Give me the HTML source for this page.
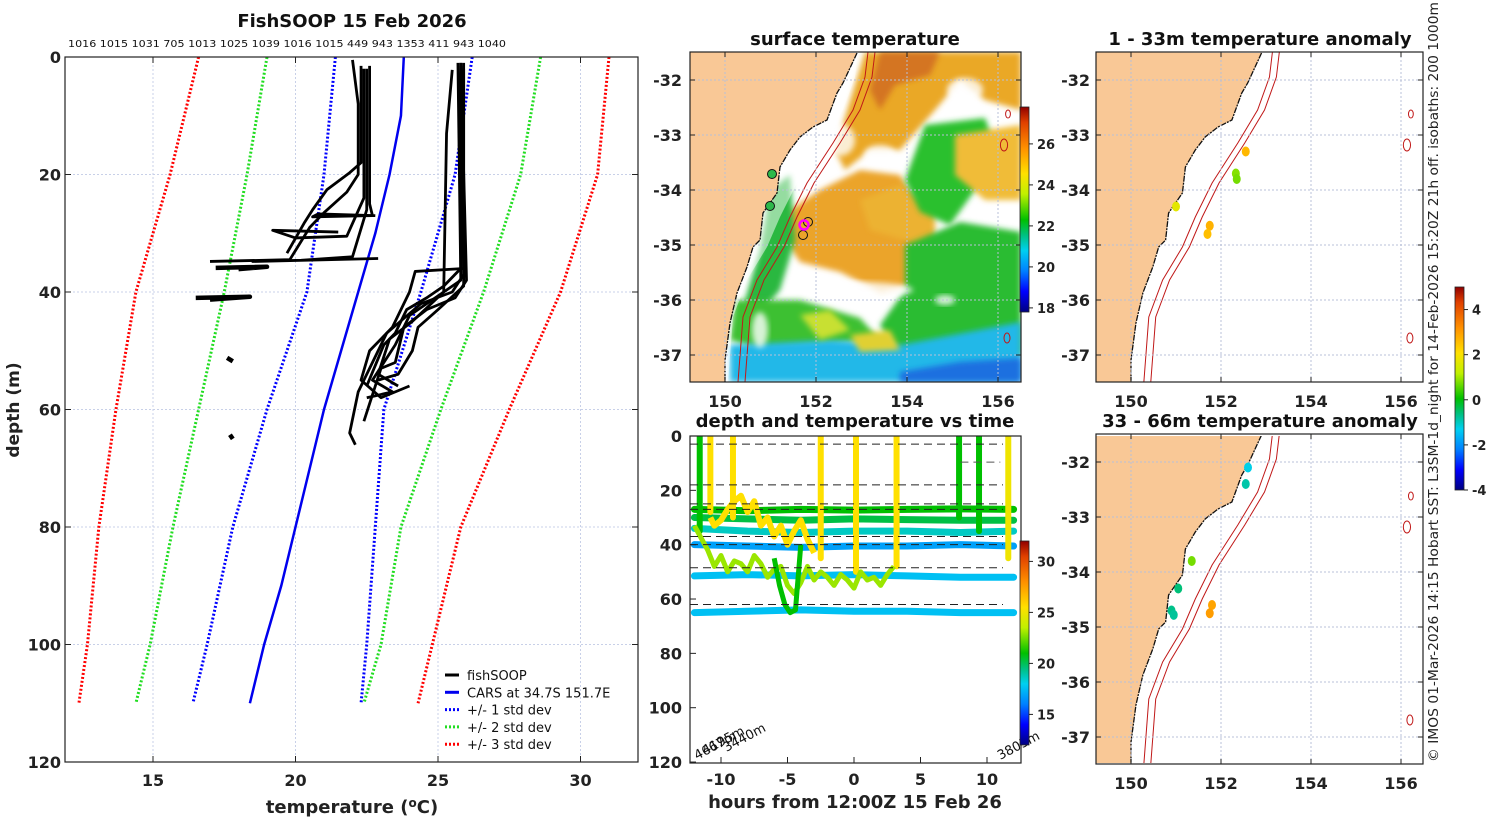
<!DOCTYPE html>
<html><head><meta charset="utf-8">
<style>
html,body{margin:0;padding:0;background:#fff;}
svg{display:block;font-family:"DejaVu Sans","Liberation Sans",sans-serif;}
</style></head>
<body>
<svg id="s" width="1500" height="820" viewBox="0 0 1500 820" xmlns="http://www.w3.org/2000/svg">
<defs>
<filter id="bl" x="-20%" y="-20%" width="140%" height="140%"><feGaussianBlur stdDeviation="3"/></filter>
<clipPath id="cm"><rect x="690" y="52" width="331" height="330"/></clipPath>
<clipPath id="cr1"><rect x="1096" y="52" width="327" height="330"/></clipPath>
<clipPath id="cr2"><rect x="1096" y="436" width="327" height="327"/></clipPath>
<clipPath id="ct"><rect x="690" y="436" width="331" height="327"/></clipPath>
<linearGradient id="jet" x1="0" y1="1" x2="0" y2="0">
<stop offset="0" stop-color="#000080"/><stop offset="0.1" stop-color="#0000ff"/><stop offset="0.2" stop-color="#0080ff"/><stop offset="0.3" stop-color="#00d0f0"/><stop offset="0.375" stop-color="#00c080"/><stop offset="0.45" stop-color="#00c000"/><stop offset="0.575" stop-color="#c0f000"/><stop offset="0.675" stop-color="#ffe000"/><stop offset="0.8" stop-color="#ff9000"/><stop offset="0.925" stop-color="#e04000"/><stop offset="1" stop-color="#900000"/>
</linearGradient>
</defs>
<g id="left"></g>
<g id="mid"></g>
<g id="tm"></g>
<g id="rt"></g>
<text x="0" y="0" transform="translate(1438,762) rotate(-90)" font-size="13" textLength="760" lengthAdjust="spacingAndGlyphs" fill="#222">© IMOS 01-Mar-2026 14:15 Hobart SST: L3SM-1d_night for 14-Feb-2026 15:20Z 21h off. isobaths: 200  1000m</text>
</svg>
<script>
// ---------- data ----------
const xTicks=[15,20,25,30];
const yTicks=[0,20,40,60,80,100,120];
const cellCounts=["1016","1015","1031","705","1013","1025","1039","1016","1015","449","943","1353","411","943","1040"];
const carsDepth=[0,10,20,30,40,50,60,70,80,90,100,110];
const carsMean=[23.8,23.7,23.3,22.8,22.2,21.6,21.0,20.5,20.0,19.5,18.9,18.4];
const stdDepth=[0,20,40,60,80,100,110];
const minus1=[21.4,21.0,20.4,19.0,17.8,16.9,16.4];
const plus1=[26.2,25.6,24.4,23.1,22.8,22.5,22.3];
const minus2=[19.0,18.3,17.5,16.6,15.7,14.9,14.4];
const plus2=[28.6,27.9,26.6,25.1,23.7,23.0,22.4];
const minus3=[16.6,15.6,14.4,13.7,13.1,12.7,12.4];
const plus3=[31.0,30.6,29.3,27.5,25.8,24.8,24.3];
const fishTracks=[
[[22.3,1.5],[22.3,10],[22.3,18],[21.9,19.7],[21.1,22.6],[20.6,26],[20.3,28.3],[19.7,33.4]],
[[22.0,0.5],[22.2,8],[22.2,20],[21.8,23],[21.0,26.5],[20.5,29],[19.8,34.5],[17.0,34.8]],
[[22.6,1.5],[22.6,25],[22.7,27],[20.6,27.2],[20.8,26.7],[22.8,27]],
[[22.4,2],[22.4,24],[21.8,30.5],[20.0,30.8],[19.2,29.5],[21.5,29.8]],
[[22.5,2],[22.5,26],[22.0,34],[20.2,34.6],[18.5,34.8],[22.9,34.3]],
[[17.2,35.9],[19.0,35.7],[18.0,36.1]],
[[16.5,41],[18.4,40.8],[17.0,41.3]],
[[17.6,51.2],[17.8,51.8]],
[[17.7,64.3],[17.8,65]],
[[25.8,1],[25.9,37],[25.5,40],[24.4,42],[23.2,47],[22.6,53],[22.2,57],[21.9,64],[22.1,66]],
[[25.7,1],[25.8,38],[24.9,41],[24.0,44],[23.5,49],[22.7,55],[23.4,57],[22.5,58]],
[[25.5,2.2],[25.3,13],[25.2,40],[24.1,45],[23.3,48],[22.9,54],[23.6,56]],
[[25.9,1],[25.9,36],[24.2,36.5],[24.0,40],[23.4,46],[22.6,50],[22.3,55],[23.0,58],[24.0,56]],
[[25.8,1],[26.0,38],[25.6,41],[24.6,43],[23.8,46],[23.5,52],[23.0,53],[22.4,62]],
[[25.9,2],[25.9,39],[25.0,43],[24.3,46],[24.1,50],[23.6,54],[22.9,55]],
[[25.8,1.5],[25.8,36],[25.2,39],[24.6,41],[23.9,43],[23.5,47],[23.1,49],[22.5,56]]
];
// time panel
const tHours=[-12,-8,-4,0,4,8,12];
const tTicks=[-10,-5,0,5,10];
const dTicks=[0,20,40,60,80,100,120];
const bandDepths=[[27,27.5,27,27.3,27,26.8,27],[30,30.5,31,30.5,30.8,31,31],[34,35,35.5,35,35,35.5,35],[40,40.5,41,40.5,40.5,40,40.5],[51.5,51,51.5,51,51.5,52,52],[65,64.5,64,64.5,64.5,65,65]];
const bandTemps=[21,20.2,18.6,16.8,17.6,17.6];
const dashDepths=[3,18,25,27,37,40,48.5,62];
const castHours=[-11.6,-10.8,-9.1,-2.5,0.15,3.2,7.9,9.4,11.6];
const castBottom=[35,28,30,45,50,48,30,35,45];
const castTemps=[21,25.5,25.5,25.5,25.5,25.5,21,21,25];
const wiggleH=[-12,-11,-10.5,-10,-9.5,-9,-8.5,-8,-7.5,-7,-6.5,-6,-5.5,-5,-4.5,-4,-3.5,-3,-2.5,-2,-1.5,-1,-0.5,0,0.5,1,1.5,2,2.5,3];
const wiggleD=[33,42,48,44,50,46,47,50,44,47,52,49,48,55,58,54,48,53,50,52,55,51,53,56,50,53,52,55,51,48];
const wig2H=[-10.8,-10.5,-10,-9.5,-9,-8.5,-8,-7.5,-7,-6.5,-6,-5.5,-5,-4.5,-4,-3.5,-3];
const wig2D=[30,33,31,27,24,22,28,24,33,30,37,33,40,35,31,38,43];
const wig3H=[-6,-5.6,-5.2,-4.8,-4.4,-4];
const wig3D=[45,55,62,65,64,40];
const depthLabels=["4667m","4195m","3440m","3803m"];
const depthLabelH=[-11.8,-11.2,-9.6,11.0];
// maps
const lonTicks=[150,152,154,156];
const latTicks=[-32,-33,-34,-35,-36,-37];
const sstTicks=[18,20,22,24,26];
const anomTicks=[-4,-2,0,2,4];
const anomTop=[[152.55,-33.3,2.5],[152.33,-33.7,0.6],[152.35,-33.8,0.5],[151.0,-34.3,1.5],[151.75,-34.65,2.6],[151.7,-34.8,2.4]];
const anomBot=[[152.6,-32.1,-1.6],[152.55,-32.4,-1.2],[151.35,-33.8,0.5],[151.05,-34.3,-0.9],[150.9,-34.7,-1.0],[150.95,-34.78,-1.1],[151.8,-34.6,2.8],[151.75,-34.75,2.9]];

// ---------- helpers ----------
const NS="http://www.w3.org/2000/svg";
function mk(parent,tag,attrs,txt){const e=document.createElementNS(NS,tag);for(const k in attrs)e.setAttribute(k,attrs[k]);if(txt!==undefined)e.textContent=txt;parent.appendChild(e);return e;}
const CM=[[0,[0,0,128]],[0.1,[0,0,255]],[0.2,[0,128,255]],[0.3,[0,208,240]],[0.375,[0,192,128]],[0.45,[0,192,0]],[0.575,[192,240,0]],[0.675,[255,224,0]],[0.8,[255,144,0]],[0.925,[224,64,0]],[1,[144,0,0]]];
function jet(v,lo,hi){let f=(v-lo)/(hi-lo);f=Math.max(0,Math.min(1,f));
 for(let i=1;i<CM.length;i++){if(f<=CM[i][0]){const a=CM[i-1],b=CM[i],u=(f-a[0])/(b[0]-a[0]);
  return `rgb(${a[1].map((c,k)=>Math.round(c+(b[1][k]-c)*u)).join(',')})`;}}
 return 'rgb(144,0,0)';}

// ---------- left profile chart ----------
const L=document.getElementById('left');
const X=t=>153+(t-15)*28.5, Y=d=>57+d*5.875;
for(const t of xTicks){const l=mk(L,'line',{x1:X(t),x2:X(t),y1:57,y2:762,stroke:'#c8d0e8','stroke-width':1,'stroke-dasharray':'2,2'});
 }
for(const d of yTicks){const l=mk(L,'line',{x1:65,x2:638,y1:Y(d),y2:Y(d),stroke:'#c8d0e8','stroke-width':1,'stroke-dasharray':'2,2'});
 }
function pl(g,pts,attrs,name){const p=mk(g,'polyline',Object.assign({points:pts.join(' '),fill:'none'},attrs));return p;}
const stdSets=[[minus3,'#ff0000','std3-lower'],[plus3,'#ff0000','std3-upper'],[minus2,'#22dd22','std2-lower'],[plus2,'#22dd22','std2-upper'],[minus1,'#0000ff','std1-lower'],[plus1,'#0000ff','std1-upper']];
for(const [arr,c,n] of stdSets){pl(L,arr.map((t,i)=>X(t)+','+Y(stdDepth[i])),{stroke:c,'stroke-width':3,'stroke-dasharray':'2,2'},n);}
pl(L,carsMean.map((t,i)=>X(t)+','+Y(carsDepth[i])),{stroke:'#0000ee','stroke-width':2.5},'cars-mean-line');
fishTracks.forEach((tr,i)=>{pl(L,tr.map(p=>X(p[0])+','+Y(p[1])),{stroke:'#000','stroke-width':(i>=5&&i<=8)?4.5:2.8,'stroke-linejoin':'round'},'fishsoop-track');});
mk(L,'rect',{x:65,y:57,width:573,height:705,fill:'none',stroke:'#222','stroke-width':1.2,});
for(const t of xTicks){mk(L,'line',{x1:X(t),x2:X(t),y1:57,y2:63,stroke:'#222'});mk(L,'line',{x1:X(t),x2:X(t),y1:756,y2:762,stroke:'#222'});
 const e=mk(L,'text',{x:X(t),y:786,'text-anchor':'middle','font-size':16,'font-weight':'bold',fill:'#222'},t);}
for(const d of yTicks){mk(L,'line',{x1:65,x2:71,y1:Y(d),y2:Y(d),stroke:'#222'});mk(L,'line',{x1:632,x2:638,y1:Y(d),y2:Y(d),stroke:'#222'});
 const e=mk(L,'text',{x:61,y:Y(d)+6,'text-anchor':'end','font-size':16,'font-weight':'bold',fill:'#222'},d);}
mk(L,'text',{x:352,y:27,'text-anchor':'middle','font-size':18,'font-weight':'bold',fill:'#111',},'FishSOOP 15 Feb 2026');
mk(L,'text',{x:68,y:47,'font-size':10,fill:'#111','textLength':438,'lengthAdjust':'spacingAndGlyphs',},cellCounts.join(' '));
const xt=mk(L,'text',{x:352,y:813,'text-anchor':'middle','font-size':18,'font-weight':'bold',fill:'#222',});
xt.innerHTML='temperature (<tspan dy="-6" font-size="12">o</tspan><tspan dy="6">C)</tspan>';
mk(L,'text',{x:0,y:0,transform:'translate(19,410) rotate(-90)','text-anchor':'middle','font-size':17,'font-weight':'bold',fill:'#222',},'depth (m)');
const leg=[['fishSOOP','#000',''],['CARS at 34.7S 151.7E','#0000ee',''],['+/- 1 std dev','#0000ff','2,2'],['+/- 2 std dev','#22dd22','2,2'],['+/- 3 std dev','#ff0000','2,2']];
leg.forEach((e,i)=>{const y=675+i*17.3;const g=mk(L,'g',{});
 mk(g,'line',{x1:445,x2:459,y1:y,y2:y,stroke:e[1],'stroke-width':3,'stroke-dasharray':e[2]});mk(g,'text',{x:467,y:y+5,'font-size':13,fill:'#111'},e[0]);});

// ---------- map helpers ----------
const coastPx=[[857,53],[843,83],[837,93],[827,120],[813,127],[800,137],[790,150],[780,167],[777,193],[763,213],[760,240],[753,247],[747,267],[737,293],[730,323],[725,360],[725,382]];
const iso1=[[868,52],[865,77],[853,110],[833,143],[807,183],[790,217],[777,247],[757,280],[743,317],[738,382]];
const iso2=iso1.map(p=>[p[0]+7,p[1]]);
function drawCoast(g,tx,dy,landCol){
 const pts=coastPx.map(p=>tx(p[0])+','+(p[1]+dy));
 const land=mk(g,'polygon',{points:`${tx(600)},${52+dy} `+pts.join(' ')+` ${tx(600)},${382+dy}`,fill:landCol});
 
 const c=mk(g,'polyline',{points:pts.join(' '),fill:'none',stroke:'#111','stroke-width':1.3,'stroke-dasharray':'6,1,2,1'});
 
 for(const iso of [iso1,iso2]){const p=mk(g,'polyline',{points:iso.map(q=>tx(q[0])+','+(q[1]+dy)).join(' '),fill:'none',stroke:'#c01818','stroke-width':1});
  }
 for(const [cx,cy,r] of [[1008,114,4],[1004,145,6],[1007,338,5]]){const e=mk(g,'ellipse',{cx:tx(cx),cy:cy+dy,rx:r*0.6,ry:r,fill:'none',stroke:'#c01818','stroke-width':1});
  }
}
function mapAxes(g,x0,x1,y0,y1,lon150,dpl,lat32,dlat,labelX){
 for(const lo of lonTicks){const x=lon150+(lo-150)*dpl;mk(g,'line',{x1:x,x2:x,y1:y0,y2:y1,stroke:'#b8c0d8','stroke-dasharray':'2,2'});
  mk(g,'line',{x1:x,x2:x,y1:y1-5,y2:y1,stroke:'#222'});mk(g,'line',{x1:x,x2:x,y1:y0,y2:y0+5,stroke:'#222'});
  const t=mk(g,'text',{x:x,y:y1+25,'text-anchor':'middle','font-size':16,'font-weight':'bold',fill:'#222'},lo);}
 for(const la of latTicks){const y=lat32+(-32-la)*dlat;mk(g,'line',{x1:x0,x2:x1,y1:y,y2:y,stroke:'#b8c0d8','stroke-dasharray':'2,2'});
  mk(g,'line',{x1:x0,x2:x0+5,y1:y,y2:y,stroke:'#222'});mk(g,'line',{x1:x1-5,x2:x1,y1:y,y2:y,stroke:'#222'});
  const t=mk(g,'text',{x:labelX,y:y+6,'text-anchor':'end','font-size':16,'font-weight':'bold',fill:'#222'},la);}
 mk(g,'rect',{x:x0,y:y0,width:x1-x0,height:y1-y0,fill:'none',stroke:'#222','stroke-width':1.2});
}
function colorbar(g,x,y0,y1,lo,hi,ticks,name){
 const r=mk(g,'rect',{x:x,y:y0,width:9,height:y1-y0,fill:'url(#jet)',stroke:'#222','stroke-width':0.8});
 for(const t of ticks){const y=y1-(t-lo)/(hi-lo)*(y1-y0);mk(g,'line',{x1:x+9,x2:x+13,y1:y,y2:y,stroke:'#222'});
  const e=mk(g,'text',{x:x+17,y:y+5,'font-size':13,'font-weight':'bold',fill:'#222'},t);}
}

// ---------- middle SST map ----------
const M=document.getElementById('mid');
const mg=mk(M,'g',{'clip-path':'url(#cm)'});
const patches=[
 ['#eaa828','865,52 1021,52 1021,110 985,100 960,80 935,110 900,150 870,150 845,170 835,150'],
 ['#d47422','880,52 940,52 930,75 895,85 880,110 870,90'],
 ['#eba42a','790,210 820,190 860,170 900,175 925,215 915,285 880,292 840,272 800,262 785,240'],
 ['#ecb232','860,200 900,185 935,210 935,250 905,240 870,230'],
 ['#2cc02e','925,125 985,118 1000,160 975,190 950,225 920,212 905,180'],
 ['#f0bc38','955,135 1021,125 1021,200 985,200 955,175'],
 ['#2cbc30','905,245 960,222 1021,232 1021,355 900,360 880,325 905,290'],
 ['#2ab840','770,190 790,175 795,240 780,290 755,320 745,300 760,250'],
 ['#3cc030','735,300 800,300 860,318 880,340 760,350 730,340'],
 ['#20b8e8','730,345 830,340 900,345 1021,322 1021,382 730,382'],
 ['#1a70e0','900,372 960,362 1021,358 1021,382 900,382'],
 ['#c8e030','800,315 830,310 850,330 820,340'],
 ['#e0d030','850,335 890,330 900,350 860,352']
];
patches.forEach(p=>{const e=mk(mg,'polygon',{points:p[1],fill:p[0],filter:'url(#bl)'});});
for(const [cx,cy,rx,ry] of [[858,290,55,8],[965,90,18,12],[880,155,16,10],[945,300,10,5],[840,140,15,16],[760,330,8,18]]){
 const w=mk(mg,'ellipse',{cx,cy,rx,ry,fill:'#fff',opacity:0.8,filter:'url(#bl)'});}
mk(mg,'polygon',{points:coastPx.map(p=>p[0]+','+p[1]).join(' ')+' '+iso1.slice().reverse().map(p=>(p[0]-10)+','+p[1]).join(' '),fill:'#fff',opacity:0.5});
drawCoast(mg,x=>x,0,'#f9c896');
for(const [cx,cy,c,s] of [[772,174,'#2cb84a','#111'],[770,206,'#2cb84a','#111'],[808,222,'none','#111'],[803,235,'none','#111'],[804,225,'none','#ff00ff']]){
 const e=mk(mg,'circle',{cx,cy,r:4.5,fill:c,stroke:s,'stroke-width':s==='#ff00ff'?2.5:1});}
mapAxes(M,690,1021,52,382,725,45.5,80,55,682);
colorbar(M,1020,107,312,17.8,27.8,sstTicks,'sst-colorbar');
mk(M,'text',{x:855,y:45,'text-anchor':'middle','font-size':18,'font-weight':'bold',fill:'#111',},'surface temperature');

// ---------- time panel ----------
const T=document.getElementById('tm');
const TX=h=>854+h*13.3, TY=d=>436+d*2.717;
const tg=mk(T,'g',{'clip-path':'url(#ct)'});
bandDepths.forEach((bd,i)=>{pl(tg,bd.map((d,j)=>TX(tHours[j])+','+TY(d)),{stroke:jet(bandTemps[i],12,32),'stroke-width':7,'stroke-linecap':'round'},'mooring-depth-band');});
castHours.forEach((h,i)=>{pl(tg,[TX(h)+','+TY(0),TX(h)+','+TY(castBottom[i])],{stroke:jet(castTemps[i],12,32),'stroke-width':6,'stroke-linecap':'round'},'cast-trace');});
pl(tg,wiggleH.map((h,i)=>TX(h)+','+TY(wiggleD[i])),{stroke:jet(23,12,32),'stroke-width':5,'stroke-linejoin':'round'},'green-wiggle-trace');
pl(tg,wig3H.map((h,i)=>TX(h)+','+TY(wig3D[i])),{stroke:jet(21,12,32),'stroke-width':5,'stroke-linejoin':'round'},'deep-dip-trace');
pl(tg,wig2H.map((h,i)=>TX(h)+','+TY(wig2D[i])),{stroke:jet(25.5,12,32),'stroke-width':6,'stroke-linejoin':'round'},'yellow-wiggle-trace');
dashDepths.forEach(d=>{const l=mk(tg,'line',{x1:690,x2:1003,y1:TY(d),y2:TY(d),stroke:'#222','stroke-dasharray':'8,5','stroke-width':1});});
mk(tg,'line',{x1:TX(8),x2:TX(11),y1:TY(9.6),y2:TY(9.6),stroke:'#555','stroke-dasharray':'8,5'});
depthLabels.forEach((s,i)=>{const x=TX(depthLabelH[i]),y=[760,755,752,760][i];const e=mk(T,'text',{x:0,y:0,transform:`translate(${x},${y}) rotate(-28)`,'font-size':13,fill:'#111'},s);});
mk(T,'rect',{x:690,y:436,width:331,height:327,fill:'none',stroke:'#222','stroke-width':1.2});
for(const h of tTicks){mk(T,'line',{x1:TX(h),x2:TX(h),y1:757,y2:763,stroke:'#222'});const e=mk(T,'text',{x:TX(h),y:785,'text-anchor':'middle','font-size':16,'font-weight':'bold',fill:'#222'},h);}
for(const d of dTicks){mk(T,'line',{x1:690,x2:696,y1:TY(d),y2:TY(d),stroke:'#222'});const e=mk(T,'text',{x:682,y:TY(d)+6,'text-anchor':'end','font-size':16,'font-weight':'bold',fill:'#222'},d);}
colorbar(T,1020,541,745,12,32,[15,20,25,30],'temperature-colorbar');
mk(T,'text',{x:855,y:427,'text-anchor':'middle','font-size':18,'font-weight':'bold',fill:'#111',},'depth and temperature vs time');
mk(T,'text',{x:855,y:808,'text-anchor':'middle','font-size':18,'font-weight':'bold',fill:'#222',},'hours from 12:00Z 15 Feb 26');

// ---------- right anomaly maps ----------
const R=document.getElementById('rt');
const rx=x=>1131+(x-725)*45/45.5;
[[0,'cr1',anomTop,'1 - 33m temperature anomaly',45],[382,'cr2',anomBot,'33 - 66m temperature anomaly',427]].forEach(([dy,clip,pts,title,ty])=>{
 const g=mk(R,'g',{'clip-path':`url(#${clip})`});
 mapAxes(R,1096,1423,52+dy,382+dy,1131,45,80+dy,55,1090);
 drawCoast(g,rx,dy,'#f9c896');
 for(const [lo,la,v] of pts){const c=mk(g,'ellipse',{cx:1131+(lo-150)*45,cy:80+dy+(-32-la)*55,rx:4,ry:5,fill:jet(v,-4.5,5)});}
 const t=mk(R,'text',{x:1260,y:ty,'text-anchor':'middle','font-size':18,'font-weight':'bold',fill:'#111'},title);
});
colorbar(R,1455,287,490,-4,5,anomTicks,'anomaly-colorbar');
</script>
</body></html>
